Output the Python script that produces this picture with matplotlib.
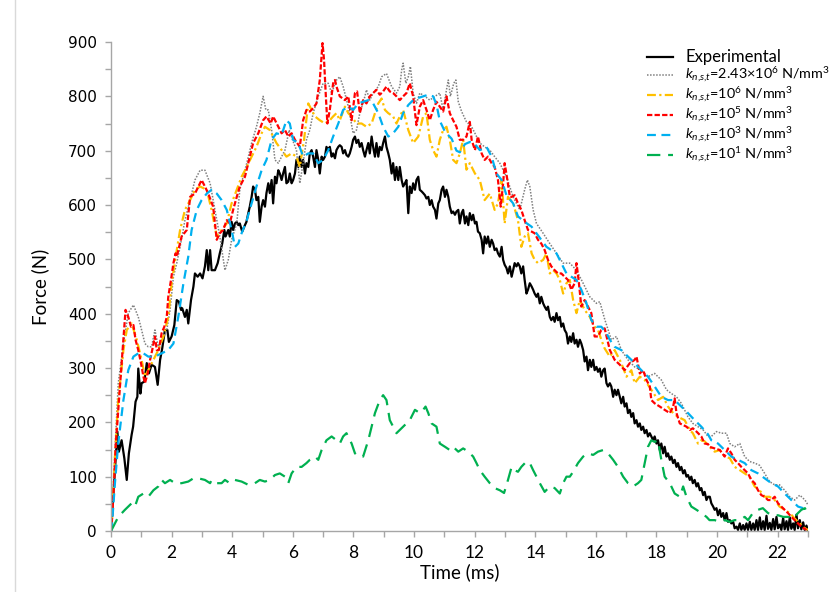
import matplotlib
matplotlib.use("Agg")
import matplotlib.pyplot as plt
from matplotlib.lines import Line2D
from matplotlib.ticker import MultipleLocator

plt.rcParams["mathtext.fontset"] = "custom"
plt.rcParams["mathtext.rm"] = "Lato"
plt.rcParams["mathtext.it"] = "Lato:italic"

# ---- Force histories (time in ms, force in N) ----

t_exp = [0.00, 0.02, 0.13, 0.21, 0.26, 0.35, 0.44, 0.52, 0.59, 0.68, 0.73, 0.81, 0.87, 0.90, 0.97,
         1.01, 1.10, 1.18, 1.25, 1.34, 1.45, 1.54, 1.62, 1.69, 1.78, 1.86, 1.91, 2.00, 2.09, 2.17,
         2.24, 2.31, 2.35, 2.44, 2.50, 2.55, 2.64, 2.72, 2.77, 2.86, 2.94, 3.02, 3.10, 3.16, 3.21,
         3.27, 3.32, 3.43, 3.52, 3.59, 3.67, 3.74, 3.78, 3.87, 3.92, 3.98, 4.03, 4.09, 4.15, 4.20,
         4.25, 4.33, 4.42, 4.47, 4.53, 4.58, 4.64, 4.69, 4.75, 4.80, 4.86, 4.91, 4.97, 5.02, 5.08,
         5.13, 5.19, 5.24, 5.30, 5.35, 5.41, 5.46, 5.52, 5.57, 5.63, 5.68, 5.74, 5.79, 5.85, 5.90,
         5.96, 6.01, 6.07, 6.12, 6.18, 6.23, 6.29, 6.34, 6.40, 6.45, 6.51, 6.56, 6.62, 6.67, 6.73,
         6.78, 6.84, 6.89, 6.95, 7.00, 7.06, 7.11, 7.17, 7.22, 7.28, 7.33, 7.39, 7.44, 7.50, 7.55,
         7.61, 7.66, 7.72, 7.77, 7.83, 7.88, 7.94, 7.99, 8.05, 8.10, 8.16, 8.21, 8.27, 8.32, 8.38,
         8.43, 8.49, 8.54, 8.60, 8.65, 8.71, 8.76, 8.82, 8.87, 8.93, 8.98, 9.04, 9.09, 9.15, 9.20,
         9.26, 9.31, 9.37, 9.42, 9.48, 9.53, 9.59, 9.64, 9.70, 9.75, 9.81, 9.86, 9.92, 9.97, 10.03,
         10.08, 10.14, 10.19, 10.25, 10.30, 10.36, 10.41, 10.47, 10.52, 10.58, 10.63, 10.69, 10.74,
         10.80, 10.85, 10.91, 10.96, 11.02, 11.07, 11.13, 11.18, 11.24, 11.29, 11.35, 11.40, 11.46,
         11.51, 11.57, 11.62, 11.68, 11.73, 11.79, 11.84, 11.90, 11.95, 12.01, 12.06, 12.11, 12.17,
         12.23, 12.28, 12.33, 12.39, 12.44, 12.50, 12.56, 12.61, 12.66, 12.72, 12.77, 12.83, 12.89,
         12.94, 12.99, 13.05, 13.10, 13.16, 13.22, 13.27, 13.32, 13.38, 13.43, 13.49, 13.54, 13.60,
         13.65, 13.71, 13.76, 13.82, 13.88, 13.93, 13.98, 14.04, 14.09, 14.15, 14.20, 14.26, 14.31,
         14.37, 14.42, 14.48, 14.53, 14.59, 14.64, 14.70, 14.75, 14.81, 14.86, 14.92, 14.97, 15.03,
         15.08, 15.14, 15.19, 15.25, 15.30, 15.36, 15.41, 15.47, 15.52, 15.58, 15.63, 15.69, 15.74,
         15.80, 15.85, 15.91, 15.96, 16.02, 16.07, 16.13, 16.18, 16.24, 16.29, 16.35, 16.40, 16.46,
         16.51, 16.57, 16.62, 16.68, 16.73, 16.79, 16.84, 16.90, 16.95, 17.01, 17.06, 17.12, 17.17,
         17.23, 17.28, 17.34, 17.39, 17.45, 17.50, 17.56, 17.61, 17.67, 17.72, 17.78, 17.83, 17.89,
         17.94, 18.00, 18.05, 18.11, 18.16, 18.22, 18.27, 18.33, 18.38, 18.44, 18.49, 18.55, 18.60,
         18.66, 18.71, 18.77, 18.82, 18.88, 18.93, 18.99, 19.04, 19.10, 19.15, 19.20, 19.26, 19.32,
         19.37, 19.43, 19.48, 19.54, 19.59, 19.65, 19.70, 19.76, 19.81, 19.87, 19.92, 19.98, 20.03,
         20.09, 20.14, 20.20, 20.25, 20.31, 20.36, 20.42, 20.47, 20.53, 20.58, 20.64, 20.69, 20.75,
         20.80, 20.86, 20.91, 20.97, 21.02, 21.08, 21.13, 21.19, 21.24, 21.30, 21.35, 21.41, 21.46,
         21.52, 21.57, 21.63, 21.68, 21.74, 21.79, 21.85, 21.90, 21.96, 22.01, 22.07, 22.12, 22.18,
         22.23, 22.29, 22.34, 22.40, 22.45, 22.51, 22.56, 22.62, 22.67, 22.73, 22.78, 22.84, 22.89,
         22.95, 23.00]
f_exp = [0, 15, 112, 183, 146, 167, 134, 94, 143, 177, 192, 238, 247, 299, 253,
         272, 275, 309, 290, 306, 302, 269, 315, 336, 370, 370, 348, 358, 379, 425,
         422, 407, 410, 394, 407, 382, 425, 450, 474, 468, 474, 465, 487, 517, 480,
         517, 480, 480, 493, 511, 529, 554, 542, 554, 542, 569, 554, 566, 569, 563,
         566, 551, 563, 569, 585, 597, 615, 634, 628, 609, 615, 569, 597, 609, 597,
         622, 640, 622, 646, 603, 652, 640, 664, 658, 646, 658, 670, 640, 643, 658,
         640, 646, 658, 683, 670, 689, 670, 683, 658, 677, 670, 695, 701, 689, 670,
         701, 683, 658, 689, 683, 689, 707, 701, 707, 689, 695, 686, 701, 707, 710,
         707, 695, 701, 692, 689, 695, 707, 720, 726, 714, 720, 707, 714, 701, 689,
         701, 714, 695, 726, 707, 689, 714, 689, 707, 701, 714, 726, 707, 695, 683,
         658, 677, 646, 670, 646, 670, 646, 634, 640, 646, 585, 634, 622, 640, 628,
         646, 652, 628, 625, 622, 618, 612, 615, 600, 609, 597, 591, 575,
         603, 609, 628, 634, 615, 628, 615, 597, 585, 588, 582, 588, 591,
         566, 585, 591, 566, 579, 563, 585, 572, 582, 566, 569, 551, 548,
         536, 511, 542, 529, 542, 523, 536, 529, 517, 520, 511, 505, 523,
         499, 490, 484, 474, 487, 468, 480, 493, 487, 493, 487, 474, 487,
         462, 437, 444, 456, 450, 444, 437, 431, 437, 419, 431, 419, 413,
         407, 413, 394, 388, 394, 385, 401, 388, 394, 376, 382, 370, 364,
         345, 358, 348, 364, 345, 352, 339, 352, 345, 333, 312, 321, 296,
         315, 302, 315, 296, 302, 293, 299, 284, 296, 299, 272, 266, 272,
         266, 247, 260, 250, 260, 247, 235, 247, 229, 235, 217, 223, 210,
         217, 198, 204, 192, 198, 186, 192, 180, 186, 174, 180, 174, 167,
         174, 161, 167, 149, 161, 143, 155, 137, 143, 131, 137, 125, 131,
         118, 125, 112, 118, 106, 112, 100, 103, 94, 100, 88, 94, 82,
         88, 75, 79, 66, 72, 57, 63, 63, 51, 45, 39, 42, 29,
         39, 26, 33, 20, 33, 17, 20, 14, 17, 5, 8, 2, 14,
         2, 11, 2, 14, 2, 17, 2, 14, 2, 20, 2, 25, 3,
         18, 2, 28, 4, 15, 2, 22, 3, 26, 5, 12, 2, 24,
         3, 18, 2, 25, 4, 14, 2, 30, 5, 20, 3, 16, 2,
         10, 0]

t_k243e6 = [0.00, 0.02, 0.13, 0.24, 0.41, 0.57, 0.74, 0.90, 1.01, 1.12, 1.23, 1.34, 1.45, 1.56, 1.67,
            1.84, 1.95, 2.06, 2.17, 2.28, 2.44, 2.61, 2.77, 2.94, 3.10, 3.27, 3.43, 3.59, 3.76, 3.87,
            3.98, 4.15, 4.25, 4.36, 4.48, 4.64, 4.80, 4.91, 5.02, 5.11, 5.19, 5.30, 5.41, 5.52, 5.63,
            5.74, 5.88, 5.99, 6.12, 6.23, 6.34, 6.45, 6.56, 6.67, 6.84, 7.00, 7.17, 7.28, 7.44, 7.55,
            7.66, 7.83, 7.99, 8.10, 8.21, 8.38, 8.43, 8.54, 8.65, 8.82, 8.93, 9.09, 9.26, 9.42, 9.53,
            9.59, 9.64, 9.73, 9.81, 9.88, 9.97, 10.08, 10.19, 10.36, 10.52, 10.69, 10.85, 10.96, 11.07,
            11.13, 11.20, 11.31, 11.38, 11.46, 11.57, 11.73, 11.90, 12.01, 12.17, 12.33, 12.50, 12.66,
            12.83, 13.05, 13.27, 13.49, 13.65, 13.74, 13.82, 13.93, 14.04, 14.26, 14.48, 14.70, 14.92,
            15.14, 15.36, 15.58, 15.80, 16.02, 16.13, 16.29, 16.51, 16.68, 16.84, 17.06, 17.28, 17.50,
            17.72, 17.94, 18.16, 18.33, 18.49, 18.66, 18.82, 19.04, 19.20, 19.37, 19.54, 19.70, 19.81,
            19.98, 20.14, 20.31, 20.42, 20.58, 20.75, 20.91, 21.07, 21.24, 21.40, 21.57, 21.73, 21.90,
            22.06, 22.23, 22.40, 22.56, 22.73, 22.90, 23.00]
f_k243e6 = [0, 8, 149, 272, 345, 401, 416, 394, 370, 345, 339, 339, 370, 339, 352,
            370, 407, 468, 493, 523, 572, 609, 646, 664, 664, 640, 591, 542, 480, 499,
            536, 566, 628, 652, 677, 714, 744, 769, 800, 775, 775, 738, 683, 677, 689,
            701, 738, 720, 701, 640, 677, 720, 738, 769, 800, 824, 824, 806, 830, 836,
            818, 781, 732, 738, 769, 800, 812, 793, 806, 818, 836, 842, 818, 806, 818,
            848, 861, 824, 836, 855, 806, 787, 806, 800, 793, 800, 806, 775, 812,
            830, 800, 824, 830, 790, 772, 753, 744, 732, 714, 707, 701, 689,
            677, 652, 615, 591, 628, 646, 634, 591, 566, 548, 529, 511, 493,
            493, 480, 456, 431, 419, 422, 390, 352, 358, 333, 315, 302, 296,
            284, 290, 278, 260, 253, 247, 235, 210, 198, 192, 186, 174, 174,
            183, 180, 180, 161, 155, 161, 137, 128, 125, 121, 106, 91, 85,
            85, 75, 63, 57, 66, 57, 48]

t_k1e6 = [0.00, 0.02, 0.13, 0.24, 0.41, 0.52, 0.68, 0.85, 1.01, 1.12, 1.23, 1.40, 1.56, 1.73, 1.89,
          2.00, 2.17, 2.28, 2.44, 2.61, 2.77, 2.94, 3.16, 3.32, 3.49, 3.65, 3.82, 3.98, 4.15, 4.31,
          4.48, 4.64, 4.80, 4.97, 5.08, 5.24, 5.35, 5.46, 5.63, 5.79, 5.96, 6.12, 6.23, 6.37, 6.51,
          6.62, 6.73, 6.89, 7.06, 7.22, 7.33, 7.44, 7.55, 7.72, 7.83, 7.94, 8.10, 8.27, 8.43, 8.60,
          8.71, 8.82, 8.93, 9.04, 9.15, 9.31, 9.42, 9.53, 9.64, 9.81, 9.97, 10.14, 10.30, 10.41,
          10.52, 10.63, 10.74, 10.85, 10.96, 11.07, 11.18, 11.29, 11.40, 11.51, 11.62, 11.73, 11.84,
          12.01, 12.17, 12.33, 12.50, 12.66, 12.77, 12.89, 12.99, 13.10, 13.27, 13.43, 13.54, 13.65,
          13.76, 13.88, 13.98, 14.09, 14.26, 14.37, 14.48, 14.59, 14.70, 14.81, 14.92, 15.03, 15.14,
          15.25, 15.36, 15.47, 15.63, 15.80, 15.96, 16.07, 16.18, 16.29, 16.46, 16.62, 16.84, 17.01,
          17.17, 17.28, 17.45, 17.61, 17.83, 18.05, 18.22, 18.38, 18.55, 18.71, 18.93, 19.10, 19.20,
          19.37, 19.48, 19.59, 19.75, 19.92, 20.09, 20.25, 20.42, 20.58, 20.75, 20.91, 21.07, 21.24,
          21.40, 21.57, 21.73, 21.90, 22.06, 22.23, 22.40, 22.56, 22.73, 22.90, 23.00]
f_k1e6 = [0, 5, 137, 241, 333, 370, 382, 352, 315, 284, 296, 315, 333, 358, 394,
          456, 517, 554, 591, 609, 628, 634, 628, 591, 542, 554, 566, 603, 628, 652,
          670, 689, 707, 732, 744, 738, 726, 714, 701, 689, 695, 689, 670, 720, 787,
          775, 763, 756, 750, 756, 763, 769, 756, 781, 769, 763, 750, 750, 744, 750,
          769, 787, 796, 775, 769, 763, 750, 763, 775, 738, 714, 726, 763, 769,
          720, 701, 689, 720, 738, 744, 720, 683, 677, 695, 720, 665, 677,
          658, 646, 609, 621, 591, 603, 646, 566, 615, 603, 572, 523, 542,
          548, 511, 499, 493, 499, 511, 474, 480, 474, 462, 437, 456, 462,
          425, 401, 425, 407, 394, 376, 370, 352, 336, 321, 333, 309, 284,
          296, 272, 284, 278, 260, 241, 247, 229, 217, 210, 204, 186, 180,
          161, 167, 165, 155, 146, 149, 137, 134, 118, 112, 106, 100, 82,
          75, 63, 63, 57, 45, 39, 33, 23, 14, 5, 2]

t_k1e5 = [0.00, 0.02, 0.10, 0.16, 0.24, 0.33, 0.41, 0.48, 0.57, 0.66, 0.74, 0.81, 0.90, 0.99, 1.07,
          1.12, 1.21, 1.29, 1.36, 1.45, 1.51, 1.58, 1.67, 1.76, 1.84, 1.89, 1.98, 2.06, 2.13, 2.17,
          2.33, 2.50, 2.61, 2.77, 2.99, 3.10, 3.21, 3.37, 3.49, 3.59, 3.70, 3.82, 3.92, 4.03, 4.15,
          4.25, 4.42, 4.53, 4.69, 4.86, 5.02, 5.13, 5.27, 5.35, 5.52, 5.63, 5.74, 5.85, 5.96, 6.07,
          6.23, 6.34, 6.45, 6.56, 6.67, 6.78, 6.89, 6.98, 7.03, 7.09, 7.14, 7.22, 7.33, 7.39, 7.44,
          7.55, 7.72, 7.83, 7.94, 8.05, 8.12, 8.21, 8.32, 8.43, 8.54, 8.65, 8.76, 8.87, 8.98, 9.09,
          9.20, 9.31, 9.42, 9.53, 9.64, 9.75, 9.86, 9.97, 10.08, 10.19, 10.30, 10.41, 10.52, 10.63,
          10.74, 10.85, 10.96, 11.07, 11.18, 11.29, 11.40, 11.51, 11.62, 11.73, 11.84, 11.90, 12.01,
          12.11, 12.23, 12.33, 12.44, 12.56, 12.66, 12.77, 12.86, 12.94, 12.99, 13.08, 13.16, 13.22,
          13.32, 13.43, 13.54, 13.65, 13.76, 13.88, 13.98, 14.09, 14.20, 14.31, 14.42, 14.53, 14.64,
          14.75, 14.86, 14.97, 15.08, 15.19, 15.30, 15.36, 15.43, 15.52, 15.63, 15.74, 15.85, 15.96,
          16.07, 16.18, 16.29, 16.46, 16.62, 16.79, 16.95, 17.12, 17.28, 17.34, 17.45, 17.56, 17.67,
          17.78, 17.83, 17.94, 18.11, 18.27, 18.44, 18.55, 18.60, 18.66, 18.77, 18.88, 18.99, 19.10,
          19.20, 19.32, 19.48, 19.59, 19.70, 19.75, 19.92, 20.09, 20.25, 20.36, 20.47, 20.58, 20.69,
          20.80, 20.91, 21.02, 21.13, 21.24, 21.35, 21.46, 21.57, 21.68, 21.79, 21.90, 22.01, 22.12,
          22.23, 22.34, 22.45, 22.56, 22.67, 22.78, 22.95]
f_k1e5 = [0, 8, 88, 162, 223, 291, 352, 407, 394, 376, 379, 352, 333, 309, 284,
          272, 290, 315, 333, 358, 333, 333, 364, 376, 394, 431, 462, 493, 511, 505,
          542, 554, 615, 621, 646, 634, 621, 597, 536, 548, 554, 572, 566, 591, 615,
          634, 652, 677, 714, 732, 756, 763, 750, 763, 744, 732, 738, 726, 732, 720,
          707, 756, 775, 772, 778, 787, 830, 898, 867, 800, 750, 775, 824, 830, 818,
          800, 793, 800, 756, 806, 809, 769, 793, 787, 800, 806, 812, 803, 809, 818,
          809, 806, 800, 793, 800, 806, 824, 800, 747, 781, 793, 775, 756, 775,
          790, 781, 772, 800, 769, 756, 744, 720, 720, 726, 753, 720, 701,
          726, 695, 683, 689, 677, 670, 646, 597, 640, 677, 646, 615, 615,
          618, 603, 591, 572, 554, 551, 548, 536, 529, 517, 499, 487, 480,
          474, 474, 468, 462, 444, 456, 493, 462, 413, 425, 413, 401, 358,
          358, 370, 373, 333, 315, 306, 296, 309, 315, 321, 290, 296, 278,
          266, 241, 235, 229, 223, 217, 229, 244, 217, 198, 195, 192, 186,
          189, 183, 174, 161, 160, 155, 152, 149, 137, 152, 143, 131, 125,
          118, 112, 106, 94, 88, 75, 66, 63, 57, 57, 63, 51, 45,
          39, 33, 26, 20, 14, 8, 2]

t_k1e3 = [0.00, 0.02, 0.13, 0.24, 0.41, 0.57, 0.74, 0.90, 1.07, 1.23, 1.45, 1.67, 1.89, 2.06, 2.22,
          2.39, 2.55, 2.66, 2.83, 2.99, 3.16, 3.32, 3.49, 3.65, 3.82, 3.98, 4.09, 4.20, 4.31, 4.48,
          4.64, 4.80, 4.97, 5.13, 5.30, 5.46, 5.63, 5.79, 5.90, 6.01, 6.18, 6.34, 6.51, 6.67, 6.84,
          7.00, 7.17, 7.33, 7.50, 7.66, 7.83, 7.99, 8.16, 8.32, 8.49, 8.65, 8.82, 8.98, 9.15, 9.31,
          9.48, 9.64, 9.81, 9.97, 10.14, 10.30, 10.47, 10.63, 10.74, 10.85, 11.02, 11.24, 11.40, 11.51,
          11.68, 11.84, 12.01, 12.17, 12.39, 12.56, 12.72, 12.89, 13.05, 13.27, 13.43, 13.65, 13.88,
          14.04, 14.20, 14.37, 14.53, 14.70, 14.86, 15.03, 15.19, 15.36, 15.52, 15.69, 15.85, 16.02,
          16.18, 16.35, 16.46, 16.62, 16.84, 17.06, 17.28, 17.50, 17.72, 17.94, 18.16, 18.38, 18.60,
          18.82, 19.04, 19.26, 19.48, 19.70, 19.81, 20.03, 20.25, 20.47, 20.69, 20.91, 21.13, 21.35,
          21.57, 21.79, 22.01, 22.23, 22.45, 22.67, 22.84, 22.95]
f_k1e3 = [0, 2, 88, 162, 241, 296, 321, 327, 327, 321, 321, 327, 333, 345, 394,
          456, 505, 554, 591, 609, 621, 628, 621, 609, 591, 554, 523, 529, 548, 572,
          603, 634, 664, 683, 720, 732, 729, 756, 750, 720, 714, 689, 695, 695, 677,
          683, 701, 726, 750, 775, 781, 775, 787, 790, 793, 787, 769, 744, 726, 732,
          744, 769, 784, 793, 797, 800, 803, 800, 785, 755, 735, 722, 700, 697,
          712, 716, 712, 701, 707, 689, 658, 646, 618, 603, 579, 569, 560,
          548, 536, 523, 517, 511, 493, 474, 468, 462, 444, 419, 388, 376,
          376, 364, 352, 339, 333, 321, 309, 296, 284, 266, 247, 241, 241,
          229, 217, 204, 192, 178, 167, 161, 149, 137, 131, 125, 112, 106,
          97, 88, 82, 69, 57, 45, 42, 50]

t_k1e1 = [0.00, 0.02, 0.24, 0.46, 0.68, 0.79, 0.90, 1.07, 1.23, 1.40, 1.56, 1.67, 1.78, 1.95, 2.11,
          2.33, 2.55, 2.72, 2.88, 3.10, 3.27, 3.32, 3.49, 3.65, 3.76, 3.92, 4.09, 4.31, 4.53, 4.75,
          4.91, 5.08, 5.24, 5.41, 5.57, 5.74, 5.85, 5.96, 6.12, 6.29, 6.45, 6.56, 6.73, 6.84, 6.95,
          7.11, 7.28, 7.44, 7.55, 7.66, 7.77, 7.94, 8.05, 8.16, 8.32, 8.49, 8.60, 8.71, 8.87, 8.98,
          9.09, 9.20, 9.31, 9.42, 9.53, 9.64, 9.75, 9.86, 10.03, 10.19, 10.30, 10.38, 10.47, 10.58,
          10.74, 10.85, 11.02, 11.18, 11.29, 11.46, 11.62, 11.79, 11.95, 12.06, 12.17, 12.33, 12.50,
          12.66, 12.83, 12.97, 13.10, 13.22, 13.32, 13.43, 13.54, 13.71, 13.82, 13.93, 14.04, 14.15,
          14.31, 14.48, 14.64, 14.81, 14.92, 15.03, 15.14, 15.25, 15.41, 15.58, 15.74, 15.91, 16.07,
          16.24, 16.40, 16.57, 16.73, 16.90, 17.06, 17.23, 17.39, 17.50, 17.61, 17.72, 17.83, 17.94,
          18.05, 18.16, 18.27, 18.44, 18.60, 18.77, 18.88, 18.99, 19.15, 19.32, 19.48, 19.65, 19.75,
          19.92, 20.09, 20.25, 20.42, 20.58, 20.75, 20.91, 21.02, 21.18, 21.35, 21.51, 21.68, 21.84,
          22.01, 22.18, 22.34, 22.51, 22.67, 22.78, 22.90, 23.00]
f_k1e1 = [0, 2, 26, 39, 51, 45, 63, 69, 63, 75, 82, 94, 88, 94, 88,
          88, 91, 97, 97, 94, 88, 94, 88, 88, 94, 88, 94, 91, 85, 88,
          94, 91, 94, 103, 106, 100, 88, 106, 118, 118, 125, 131, 137, 131, 149,
          167, 174, 167, 161, 174, 180, 161, 143, 137, 137, 167, 192, 217, 241, 250,
          241, 204, 192, 180, 186, 192, 198, 204, 223, 217, 223, 229, 217, 198,
          192, 161, 155, 149, 155, 146, 152, 146, 137, 125, 112, 100, 88,
          79, 75, 70, 94, 118, 112, 109, 118, 128, 125, 112, 100, 88,
          72, 82, 79, 69, 88, 100, 100, 109, 125, 137, 143, 140, 146,
          149, 143, 131, 118, 100, 88, 82, 88, 94, 125, 155, 167, 164,
          167, 131, 100, 88, 69, 63, 82, 63, 45, 39, 33, 26, 20,
          20, 17, 20, 17, 20, 20, 26, 20, 33, 39, 42, 33, 29,
          29, 26, 26, 23, 33, 39, 42, 30]

label_exp = "Experimental"
labels_sim = [r"$k_{n{,}s{,}t}$=2.43×10$^{6}$ N/mm$^{3}$",
              r"$k_{n{,}s{,}t}$=10$^{6}$ N/mm$^{3}$",
              r"$k_{n{,}s{,}t}$=10$^{5}$ N/mm$^{3}$",
              r"$k_{n{,}s{,}t}$=10$^{3}$ N/mm$^{3}$",
              r"$k_{n{,}s{,}t}$=10$^{1}$ N/mm$^{3}$"]

# ---- Figure ----

fig = plt.figure(figsize=(8.4, 5.92), dpi=100)
ax = fig.add_axes([111 / 840, 1 - 531 / 592, 697 / 840, 489 / 592])

ax.plot(t_exp, f_exp, color="black", lw=1.6, label=label_exp)
ax.plot(t_k243e6, f_k243e6, color="#7F7F7F", lw=1.1, dashes=(1, 1), label=labels_sim[0])
ax.plot(t_k1e6, f_k1e6, color="#FFC000", lw=1.6, dashes=(4, 1.5, 1, 1.5), label=labels_sim[1])
ax.plot(t_k1e5, f_k1e5, color="#FF0000", lw=1.6, dashes=(2.4, 1), label=labels_sim[2])
ax.plot(t_k1e3, f_k1e3, color="#00B0F0", lw=1.6, dashes=(4, 2.5), label=labels_sim[3])
ax.plot(t_k1e1, f_k1e1, color="#00B050", lw=1.6, dashes=(6, 3.5), label=labels_sim[4])

ax.set_xlim(0, 23)
ax.set_ylim(0, 900)
ax.xaxis.set_major_locator(MultipleLocator(2))
ax.xaxis.set_minor_locator(MultipleLocator(1))
ax.yaxis.set_major_locator(MultipleLocator(100))
ax.yaxis.set_minor_locator(MultipleLocator(50))

spine_col = "#A6A6A6"
for side in ("top", "right"):
    ax.spines[side].set_visible(False)
for side in ("left", "bottom"):
    ax.spines[side].set_color(spine_col)
    ax.spines[side].set_linewidth(1.0)
ax.tick_params(which="both", direction="out", length=4, width=1, color=spine_col)
ax.tick_params(axis="y", which="major", labelsize=11, pad=6)
ax.tick_params(axis="x", which="major", labelsize=11, pad=6)
for lab in ax.get_xticklabels():
    lab.set_fontfamily("Lato")
    lab.set_fontsize(12.5)

ax.set_xlabel("Time (ms)", fontsize=13.5, family="Lato", labelpad=2)
ax.set_ylabel("Force (N)", fontsize=13.5, family="Lato", labelpad=14)

leg = ax.legend(loc="upper left", bbox_to_anchor=(647 / 840, 1 - 49 / 592),
                bbox_transform=fig.transFigure, frameon=False, borderpad=0, borderaxespad=0,
                handlelength=1.8, handletextpad=0.85, labelspacing=0.06,
                prop={"family": "Lato", "size": 10.4})
leg.get_texts()[0].set_fontsize(12)

fig.add_artist(Line2D([15 / 840, 15 / 840], [0, 1], color="#D9D9D9", lw=1))

fig.savefig("out.png", dpi=100)
